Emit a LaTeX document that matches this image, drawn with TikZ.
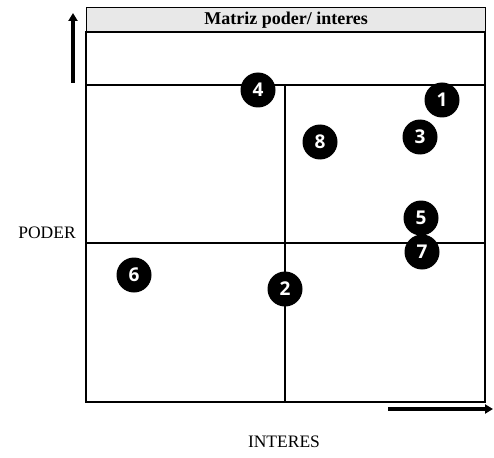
\documentclass[tikz,border=0pt]{standalone}
\usepackage{fontspec}
\setmainfont{Liberation Serif}
\newfontfamily\digitfont{Open Sans}
\usetikzlibrary{arrows.meta}
\definecolor{titlegray}{RGB}{232,232,232}
\begin{document}
\begin{tikzpicture}[x=1pt,y=-1pt,
  gridline/.style={line width=1.3pt,black},
  axisarrow/.style={line width=3.2pt,-{Triangle[length=8pt,width=9pt]}},
  actor/.style={circle,fill=black,minimum size=35pt,inner sep=0pt,text=white,
    font=\digitfont\bfseries\fontsize{19}{19}\selectfont},
  axislabel/.style={font=\fontsize{17.5}{18}\selectfont}]
\useasboundingbox (0,0) rectangle (494,457);
% title bar and frame
\node[draw,line width=1.3pt,fill=titlegray,minimum width=399pt,minimum height=25pt,
  anchor=north west,inner sep=0pt,font=\bfseries\fontsize{18}{18}\selectfont]
  (title) at (86,7) {Matriz poder/ interes};
\draw[gridline] (86,32) rectangle (485,402);
% quadrant lines
\draw[gridline] (86,85) -- (485,85);
\draw[gridline] (86,243) -- (485,243);
\draw[gridline] (285,85) -- (285,402);
% axes
\coordinate (ybot) at (73,83);
\coordinate (ytop) at (73,13);
\coordinate (xleft) at (388,409);
\coordinate (xright) at (493,409);
\draw[axisarrow] (ybot) -- (ytop);
\draw[axisarrow] (xleft) -- (xright);
\node[axislabel] (poder) at (47,233) {PODER};
\node[axislabel] (interes) at (284,442) {INTERES};
% stakeholders
\node[actor] (s4) at (258,90) {4};
\node[actor] (s1) at (442,100) {1};
\node[actor] (s3) at (420,137) {3};
\node[actor] (s8) at (320,142) {8};
\node[actor] (s5) at (421,218) {5};
\node[actor] (s7) at (422,252) {7};
\node[actor] (s6) at (134,275) {6};
\node[actor] (s2) at (285,289) {2};
\end{tikzpicture}
\end{document}
